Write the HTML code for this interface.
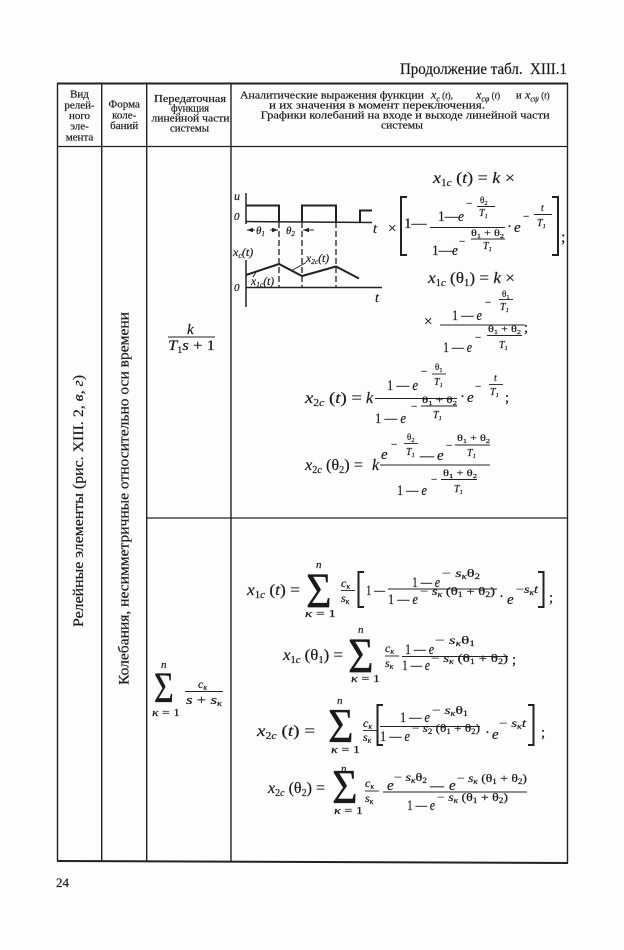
<!DOCTYPE html>
<html><head><meta charset="utf-8">
<style>
html,body{margin:0;padding:0;background:#fdfdfd;}
svg{display:block;}
text{font-family:"Liberation Serif","DejaVu Serif",serif;fill:#1a1a1a;stroke:#1a1a1a;stroke-width:0.2;}
.i{font-style:italic;}
.l{stroke:#222;fill:none;}
</style></head><body>
<svg width="624" height="950" viewBox="0 0 624 950" xmlns="http://www.w3.org/2000/svg">
<rect x="0" y="0" width="624" height="950" fill="#fdfdfd"/>

<!-- title -->
<text x="400" y="74" font-size="15.5" textLength="167" lengthAdjust="spacingAndGlyphs">Продолжение табл.&#160;&#160;XIII.1</text>

<!-- table frame -->
<g class="l">
<path stroke-width="2" d="M57,83.5 H568"/>
<path stroke-width="1.3" d="M57,146.5 H568"/>
<path stroke-width="2" d="M57,861 L568,863"/>
<path stroke-width="1.4" d="M57.5,83 V861 M101.7,83 V861.3 M146.7,83 V861.5 M231,83 V862 M567.5,83 V863"/>
<path stroke-width="1.3" d="M146.7,518 H567.5"/>
</g>

<!-- header col1 / col2 -->
<g font-size="11" text-anchor="middle">
<text x="79.5" y="97.5">Вид</text>
<text x="79.5" y="108.3">релей-</text>
<text x="79.5" y="119">ного</text>
<text x="79.5" y="129.7">эле-</text>
<text x="79.5" y="140.5">мента</text>
<text x="124.2" y="107.5">Форма</text>
<text x="124.2" y="118.3">коле-</text>
<text x="124.2" y="129">баний</text>
</g>
<g font-size="11">
<text x="154" y="102" textLength="72" lengthAdjust="spacingAndGlyphs">Передаточная</text>
<text x="171" y="111.5" textLength="38" lengthAdjust="spacingAndGlyphs">функция</text>
<text x="151.5" y="121.5" textLength="78" lengthAdjust="spacingAndGlyphs">линейной части</text>
<text x="170" y="131.5" textLength="39" lengthAdjust="spacingAndGlyphs">системы</text>
</g>
<!-- header col4 -->
<g font-size="11">
<text x="240" y="98.5" textLength="184" lengthAdjust="spacingAndGlyphs">Аналитические выражения функции</text>
<text x="431" y="98.5" font-size="12"><tspan class="i">x</tspan><tspan font-size="8" class="i" dy="3">c</tspan><tspan dy="-3" font-size="9"> (</tspan><tspan font-size="9" class="i">t</tspan><tspan font-size="9">),</tspan></text>
<text x="476" y="98.5" font-size="12"><tspan class="i">x</tspan><tspan font-size="8" class="i" dy="3">cφ</tspan><tspan dy="-3" font-size="9"> (</tspan><tspan font-size="9" class="i">t</tspan><tspan font-size="9">)</tspan></text>
<text x="516" y="98.5" font-size="10.5">и</text>
<text x="525" y="98.5" font-size="12"><tspan class="i">x</tspan><tspan font-size="8" class="i" dy="3">cψ</tspan><tspan dy="-3" font-size="9"> (</tspan><tspan font-size="9" class="i">t</tspan><tspan font-size="9">)</tspan></text>
<text x="269" y="108.5" textLength="216" lengthAdjust="spacingAndGlyphs">и их значения в момент переключения.</text>
<text x="260.7" y="118.5" textLength="289" lengthAdjust="spacingAndGlyphs">Графики колебаний на входе и выходе линейной части</text>
<text x="381" y="128.5" textLength="42" lengthAdjust="spacingAndGlyphs">системы</text>
</g>

<!-- rotated column texts -->
<text transform="translate(83,501) rotate(-90)" font-size="15" text-anchor="middle" textLength="252" lengthAdjust="spacingAndGlyphs">Релейные элементы (рис. XIII. 2, <tspan class="i">в</tspan>, <tspan class="i">г</tspan>)</text>
<text transform="translate(128.5,498.5) rotate(-90)" font-size="15" text-anchor="middle" textLength="373" lengthAdjust="spacingAndGlyphs">Колебания, несимметричные относительно оси времени</text>

<!-- col3 transfer functions -->
<text x="187" y="334" font-size="15" class="i">k</text>
<path class="l" stroke-width="1" d="M168,337 H215"/>
<text x="168" y="350" font-size="15" textLength="47" lengthAdjust="spacingAndGlyphs"><tspan class="i">T</tspan><tspan font-size="9" dy="3">1</tspan><tspan dy="-3" class="i">s</tspan> + 1</text>

<text transform="translate(154,702) scale(1,1.28)" font-size="34">Σ</text>
<text x="161" y="668" font-size="11" class="i">n</text>
<text x="152" y="716" font-size="10" textLength="28" lengthAdjust="spacingAndGlyphs"><tspan class="i">κ</tspan> = 1</text>
<text x="198" y="688" font-size="12" class="i">c<tspan font-size="8" dy="2">κ</tspan></text>
<path class="l" stroke-width="1" d="M185,691.5 H223"/>
<text x="186" y="704" font-size="13" textLength="36" lengthAdjust="spacingAndGlyphs"><tspan class="i">s</tspan> + <tspan class="i">s</tspan><tspan font-size="8" dy="2" class="i">κ</tspan></text>

<!-- graph -->
<g class="l" stroke-width="1.5">
<path d="M246,193 V224"/>
<path d="M246,221.5 L372,222.5"/>
<path stroke-width="2" d="M246,205.5 H279 V222"/>
<path stroke-width="2" d="M302,222 V205.5 H336 V222"/>
<path stroke-width="2" d="M360,222.5 V210.5 H372"/>
<path stroke-width="1.3" stroke-dasharray="6,3" d="M279,222 V287 M302,222 V287 M336,222 V287"/>
<path d="M246,260 V307"/>
<path d="M246,287.5 H382"/>
<path stroke-width="2" d="M246,275 L279,264 L302,276 L336,266.5 L359,278.5"/>
<path stroke-width="1" d="M306,262.5 L292,270.5"/>
<path stroke-width="1" d="M253,277 L256,272"/>
<path stroke-width="1" d="M247,230 H255 M270,230 H278 M303,230 H314"/>
</g>
<g fill="#222">
<polygon points="247,230 253,227.8 253,232.2"/>
<polygon points="278,230 272,227.8 272,232.2"/>
<polygon points="303,230 309,227.8 309,232.2"/>
</g>
<text x="234" y="200" font-size="12" class="i">u</text>
<text x="234" y="220" font-size="11" class="i">0</text>
<text x="256" y="234" font-size="11" class="i">θ<tspan font-size="7" dy="2">1</tspan></text>
<text x="286" y="234" font-size="11" class="i">θ<tspan font-size="7" dy="2">2</tspan></text>
<text x="373" y="233" font-size="14" class="i">t</text>
<text x="388" y="233" font-size="15">×</text>
<text x="233" y="256" font-size="12" class="i">x<tspan font-size="8" dy="2">c</tspan><tspan dy="-2">(t)</tspan></text>
<text x="306" y="262" font-size="11.5" class="i">x<tspan font-size="7.5" dy="2">2c</tspan><tspan dy="-2">(t)</tspan></text>
<text x="251" y="285" font-size="11.5" class="i">x<tspan font-size="7.5" dy="2">1c</tspan><tspan dy="-2">(t)</tspan></text>
<text x="234" y="291" font-size="11" class="i">0</text>
<text x="375" y="302" font-size="14" class="i">t</text>

<!-- Formula A -->
<text x="433" y="183" font-size="16" textLength="82" lengthAdjust="spacingAndGlyphs"><tspan class="i">x</tspan><tspan font-size="10" dy="3">1</tspan><tspan font-size="10" class="i">c</tspan><tspan dy="-3"> (</tspan><tspan class="i">t</tspan>) = <tspan class="i">k</tspan> ×</text>
<path class="l" stroke-width="2" d="M407,197 H401 V255 H407 M552,197 H558 V255 H552"/>
<text x="404" y="228" font-size="15">1—</text>
<g class="l" stroke-width="0.9">
<path d="M430,227.5 H505"/>
<path d="M477,206.5 H495"/>
<path d="M471,239 H505"/>
<path d="M534,214.5 H552"/>
</g>
<text x="438" y="221" font-size="15" textLength="26" lengthAdjust="spacingAndGlyphs">1—<tspan class="i">e</tspan></text>
<text x="466" y="207" font-size="11">−</text>
<text x="480" y="203" font-size="9">θ<tspan dy="2" font-size="6.5">2</tspan></text>
<text x="479" y="216" font-size="10" class="i">T<tspan dy="2" font-size="6.5">1</tspan></text>
<text x="432" y="255" font-size="15" textLength="26" lengthAdjust="spacingAndGlyphs">1—<tspan class="i">e</tspan></text>
<text x="459" y="245" font-size="11">−</text>
<text x="471" y="236" font-size="9.5" textLength="33" lengthAdjust="spacingAndGlyphs">θ<tspan dy="2" font-size="6.5">1</tspan><tspan dy="-2"> + θ</tspan><tspan dy="2" font-size="6.5">2</tspan></text>
<text x="483" y="249" font-size="10" class="i">T<tspan dy="2" font-size="6.5">1</tspan></text>
<text x="507" y="231" font-size="15">·</text>
<text x="514" y="232" font-size="15" class="i">e</text>
<text x="523" y="220" font-size="11">−</text>
<text x="541" y="211" font-size="10" class="i">t</text>
<text x="537" y="226" font-size="10" class="i">T<tspan dy="2" font-size="6.5">1</tspan></text>
<text x="561" y="242" font-size="16">;</text>

<!-- Formula B -->
<text x="428" y="283" font-size="16" textLength="87" lengthAdjust="spacingAndGlyphs"><tspan class="i">x</tspan><tspan font-size="10" dy="3">1</tspan><tspan font-size="10" class="i">c</tspan><tspan dy="-3"> (θ</tspan><tspan font-size="10" dy="3">1</tspan><tspan dy="-3">) = </tspan><tspan class="i">k</tspan> ×</text>
<text x="424" y="326" font-size="15">×</text>
<g class="l" stroke-width="0.9">
<path d="M440,325 H525"/>
<path d="M499,299.5 H513"/>
<path d="M487,335.5 H522"/>
</g>
<text x="452" y="320" font-size="15" textLength="30" lengthAdjust="spacingAndGlyphs">1 — <tspan class="i">e</tspan></text>
<text x="485" y="306" font-size="11">−</text>
<text x="502" y="297" font-size="9">θ<tspan dy="2" font-size="6.5">1</tspan></text>
<text x="500" y="310" font-size="10" class="i">T<tspan dy="2" font-size="6.5">1</tspan></text>
<text x="443" y="352" font-size="15" textLength="29" lengthAdjust="spacingAndGlyphs">1 — <tspan class="i">e</tspan></text>
<text x="475" y="341" font-size="11">−</text>
<text x="488" y="332" font-size="9.5" textLength="33" lengthAdjust="spacingAndGlyphs">θ<tspan dy="2" font-size="6.5">1</tspan><tspan dy="-2"> + θ</tspan><tspan dy="2" font-size="6.5">2</tspan></text>
<text x="499" y="348" font-size="10" class="i">T<tspan dy="2" font-size="6.5">1</tspan></text>
<text x="524" y="332" font-size="15">;</text>

<!-- Formula C -->
<text x="305" y="403" font-size="16" textLength="57" lengthAdjust="spacingAndGlyphs"><tspan class="i">x</tspan><tspan font-size="10" dy="3">2</tspan><tspan font-size="10" class="i">c</tspan><tspan dy="-3"> (</tspan><tspan class="i">t</tspan>) =</text>
<text x="366" y="403" font-size="16" class="i">k</text>
<g class="l" stroke-width="0.9">
<path d="M375,398.5 H457"/>
<path d="M432,374 H446"/>
<path d="M421,406 H457"/>
<path d="M489,384.5 H503"/>
</g>
<text x="387" y="390" font-size="15" textLength="31" lengthAdjust="spacingAndGlyphs">1 — <tspan class="i">e</tspan></text>
<text x="421" y="375" font-size="11">−</text>
<text x="435" y="370" font-size="9">θ<tspan dy="2" font-size="6.5">1</tspan></text>
<text x="434" y="385" font-size="10" class="i">T<tspan dy="2" font-size="6.5">1</tspan></text>
<text x="375" y="423" font-size="15" textLength="31" lengthAdjust="spacingAndGlyphs">1 — <tspan class="i">e</tspan></text>
<text x="411" y="410" font-size="11">−</text>
<text x="422" y="403" font-size="9.5" textLength="35" lengthAdjust="spacingAndGlyphs">θ<tspan dy="2" font-size="6.5">1</tspan><tspan dy="-2"> + θ</tspan><tspan dy="2" font-size="6.5">2</tspan></text>
<text x="433" y="418" font-size="10" class="i">T<tspan dy="2" font-size="6.5">1</tspan></text>
<text x="460" y="401" font-size="15">·</text>
<text x="467" y="402" font-size="15" class="i">e</text>
<text x="475" y="390" font-size="11">−</text>
<text x="494" y="381" font-size="10" class="i">t</text>
<text x="490" y="395" font-size="10" class="i">T<tspan dy="2" font-size="6.5">1</tspan></text>
<text x="505" y="402" font-size="15">;</text>

<!-- Formula D -->
<text x="305" y="470" font-size="16" textLength="58" lengthAdjust="spacingAndGlyphs"><tspan class="i">x</tspan><tspan font-size="10" dy="3">2</tspan><tspan font-size="10" class="i">c</tspan><tspan dy="-3"> (θ</tspan><tspan font-size="10" dy="3">2</tspan><tspan dy="-3">) =</tspan></text>
<text x="372" y="470" font-size="16" class="i">k</text>
<g class="l" stroke-width="0.9">
<path d="M380,465 H490"/>
<path d="M404,443.5 H418"/>
<path d="M455,445 H490"/>
<path d="M441,479.5 H477"/>
</g>
<text x="381" y="459" font-size="15" class="i">e</text>
<text x="391" y="448" font-size="11">−</text>
<text x="407" y="440" font-size="9">θ<tspan dy="2" font-size="6.5">2</tspan></text>
<text x="406" y="455" font-size="10" class="i">T<tspan dy="2" font-size="6.5">1</tspan></text>
<text x="420" y="460" font-size="14">—</text>
<text x="437" y="460" font-size="15" class="i">e</text>
<text x="446" y="449" font-size="11">−</text>
<text x="457" y="441" font-size="9.5" textLength="33" lengthAdjust="spacingAndGlyphs">θ<tspan dy="2" font-size="6.5">1</tspan><tspan dy="-2"> + θ</tspan><tspan dy="2" font-size="6.5">2</tspan></text>
<text x="467" y="456" font-size="10" class="i">T<tspan dy="2" font-size="6.5">1</tspan></text>
<text x="397" y="495" font-size="15" textLength="30" lengthAdjust="spacingAndGlyphs">1 — <tspan class="i">e</tspan></text>
<text x="431" y="483" font-size="11">−</text>
<text x="443" y="476" font-size="9.5" textLength="34" lengthAdjust="spacingAndGlyphs">θ<tspan dy="2" font-size="6.5">1</tspan><tspan dy="-2"> + θ</tspan><tspan dy="2" font-size="6.5">2</tspan></text>
<text x="454" y="492" font-size="10" class="i">T<tspan dy="2" font-size="6.5">1</tspan></text>

<!-- Formula E -->
<text x="247" y="595" font-size="16" textLength="53" lengthAdjust="spacingAndGlyphs"><tspan class="i">x</tspan><tspan font-size="10" dy="3">1</tspan><tspan font-size="10" class="i">c</tspan><tspan dy="-3"> (</tspan><tspan class="i">t</tspan>) =</text>
<text transform="translate(306,607) scale(1,1.12)" font-size="44">Σ</text>
<text x="316" y="568" font-size="11" class="i">n</text>
<text x="305" y="617" font-size="10" textLength="31" lengthAdjust="spacingAndGlyphs"><tspan class="i">κ</tspan> = 1</text>
<text x="341" y="587" font-size="12" class="i">c<tspan font-size="8" dy="2">κ</tspan></text>
<text x="341" y="602" font-size="12" class="i">s<tspan font-size="8" dy="2">κ</tspan></text>
<g class="l" stroke-width="0.9">
<path d="M341,590.5 H355"/>
<path d="M388,589 H497"/>
</g>
<path class="l" stroke-width="2" d="M364,572 H358.5 V607 H364 M538,572 H543.5 V607 H538"/>
<text x="366" y="595" font-size="15" textLength="19" lengthAdjust="spacingAndGlyphs">1 —</text>
<text x="412" y="587" font-size="15" textLength="28" lengthAdjust="spacingAndGlyphs">1 — <tspan class="i">e</tspan></text>
<text x="442" y="577" font-size="12" textLength="38" lengthAdjust="spacingAndGlyphs">− <tspan class="i">s</tspan><tspan font-size="8" dy="2" class="i">κ</tspan><tspan dy="-2">θ</tspan><tspan font-size="8" dy="2">2</tspan></text>
<text x="388" y="604" font-size="15" textLength="30" lengthAdjust="spacingAndGlyphs">1 — <tspan class="i">e</tspan></text>
<text x="420" y="595" font-size="12" textLength="75" lengthAdjust="spacingAndGlyphs">− <tspan class="i">s</tspan><tspan font-size="8" dy="2" class="i">κ</tspan><tspan dy="-2"> (θ</tspan><tspan font-size="8" dy="2">1</tspan><tspan dy="-2"> + θ</tspan><tspan font-size="8" dy="2">2</tspan><tspan dy="-2">)</tspan></text>
<text x="499" y="601" font-size="15">·</text>
<text x="507" y="604" font-size="15" class="i">e</text>
<text x="516" y="593" font-size="12" textLength="22" lengthAdjust="spacingAndGlyphs">−<tspan class="i">s</tspan><tspan font-size="8" dy="2" class="i">κ</tspan><tspan dy="-2" class="i">t</tspan></text>
<text x="549" y="602" font-size="15">;</text>

<!-- Formula F -->
<text x="283" y="660" font-size="16" textLength="60" lengthAdjust="spacingAndGlyphs"><tspan class="i">x</tspan><tspan font-size="10" dy="3">1</tspan><tspan font-size="10" class="i">c</tspan><tspan dy="-3"> (θ</tspan><tspan font-size="10" dy="3">1</tspan><tspan dy="-3">) =</tspan></text>
<text transform="translate(348,672) scale(1,1.12)" font-size="44">Σ</text>
<text x="358" y="633" font-size="11" class="i">n</text>
<text x="351" y="682" font-size="10" textLength="29" lengthAdjust="spacingAndGlyphs"><tspan class="i">κ</tspan> = 1</text>
<text x="385" y="652" font-size="12" class="i">c<tspan font-size="8" dy="2">κ</tspan></text>
<text x="385" y="667" font-size="12" class="i">s<tspan font-size="8" dy="2">κ</tspan></text>
<g class="l" stroke-width="0.9">
<path d="M385,656 H399"/>
<path d="M402,656.5 H508"/>
</g>
<text x="405" y="654" font-size="15" textLength="29" lengthAdjust="spacingAndGlyphs">1 — <tspan class="i">e</tspan></text>
<text x="435" y="644" font-size="12" textLength="40" lengthAdjust="spacingAndGlyphs">− <tspan class="i">s</tspan><tspan font-size="8" dy="2" class="i">κ</tspan><tspan dy="-2">θ</tspan><tspan font-size="8" dy="2">1</tspan></text>
<text x="402" y="670" font-size="15" textLength="28" lengthAdjust="spacingAndGlyphs">1 — <tspan class="i">e</tspan></text>
<text x="431" y="662" font-size="12" textLength="77" lengthAdjust="spacingAndGlyphs">− <tspan class="i">s</tspan><tspan font-size="8" dy="2" class="i">κ</tspan><tspan dy="-2"> (θ</tspan><tspan font-size="8" dy="2">1</tspan><tspan dy="-2"> + θ</tspan><tspan font-size="8" dy="2">2</tspan><tspan dy="-2">)</tspan></text>
<text x="512" y="664" font-size="15">;</text>

<!-- Formula G -->
<text x="257" y="736" font-size="16" textLength="58" lengthAdjust="spacingAndGlyphs"><tspan class="i">x</tspan><tspan font-size="10" dy="3">2</tspan><tspan font-size="10" class="i">c</tspan><tspan dy="-3"> (</tspan><tspan class="i">t</tspan>) =</text>
<text transform="translate(328,742) scale(1,1.1)" font-size="44">Σ</text>
<text x="337" y="704" font-size="11" class="i">n</text>
<text x="331" y="753" font-size="10" textLength="29" lengthAdjust="spacingAndGlyphs"><tspan class="i">κ</tspan> = 1</text>
<text x="363" y="727" font-size="12" class="i">c<tspan font-size="8" dy="2">κ</tspan></text>
<text x="363" y="741" font-size="12" class="i">s<tspan font-size="8" dy="2">κ</tspan></text>
<g class="l" stroke-width="0.9">
<path d="M363,730.5 H377"/>
<path d="M380,726.5 H480"/>
</g>
<path class="l" stroke-width="2" d="M383,705 H377.5 V745 H383 M528,705 H533.5 V745 H528"/>
<text x="400" y="722" font-size="15" textLength="30" lengthAdjust="spacingAndGlyphs">1 — <tspan class="i">e</tspan></text>
<text x="432" y="714" font-size="12" textLength="36" lengthAdjust="spacingAndGlyphs">− <tspan class="i">s</tspan><tspan font-size="8" dy="2" class="i">κ</tspan><tspan dy="-2">θ</tspan><tspan font-size="8" dy="2">1</tspan></text>
<text x="380" y="741" font-size="15" textLength="30" lengthAdjust="spacingAndGlyphs">1 — <tspan class="i">e</tspan></text>
<text x="412" y="732" font-size="12" textLength="68" lengthAdjust="spacingAndGlyphs">− <tspan class="i">s</tspan><tspan font-size="8" dy="2">2</tspan><tspan dy="-2"> (θ</tspan><tspan font-size="8" dy="2">1</tspan><tspan dy="-2"> + θ</tspan><tspan font-size="8" dy="2">2</tspan><tspan dy="-2">)</tspan></text>
<text x="485" y="737" font-size="15">·</text>
<text x="492" y="739" font-size="15" class="i">e</text>
<text x="499" y="727" font-size="12" textLength="27" lengthAdjust="spacingAndGlyphs">− <tspan class="i">s</tspan><tspan font-size="8" dy="2" class="i">κ</tspan><tspan dy="-2" class="i">t</tspan></text>
<text x="541" y="737" font-size="15">;</text>

<!-- Formula H -->
<text x="268" y="793" font-size="16" textLength="57" lengthAdjust="spacingAndGlyphs"><tspan class="i">x</tspan><tspan font-size="10" dy="3">2</tspan><tspan font-size="10" class="i">c</tspan><tspan dy="-3"> (θ</tspan><tspan font-size="10" dy="3">2</tspan><tspan dy="-3">) =</tspan></text>
<text transform="translate(332,803) scale(1,1.1)" font-size="44">Σ</text>
<text x="341" y="772" font-size="11" class="i">n</text>
<text x="334" y="814" font-size="10" textLength="29" lengthAdjust="spacingAndGlyphs"><tspan class="i">κ</tspan> = 1</text>
<text x="365" y="787" font-size="12" class="i">c<tspan font-size="8" dy="2">κ</tspan></text>
<text x="365" y="802" font-size="12" class="i">s<tspan font-size="8" dy="2">κ</tspan></text>
<g class="l" stroke-width="0.9">
<path d="M365,791 H379"/>
<path d="M383,792 H527"/>
</g>
<text x="387" y="790" font-size="15" class="i">e</text>
<text x="394" y="781" font-size="12" textLength="33" lengthAdjust="spacingAndGlyphs">− <tspan class="i">s</tspan><tspan font-size="8" dy="2" class="i">κ</tspan><tspan dy="-2">θ</tspan><tspan font-size="8" dy="2">2</tspan></text>
<text x="430" y="790" font-size="14">—</text>
<text x="449" y="790" font-size="15" class="i">e</text>
<text x="457" y="782" font-size="12" textLength="70" lengthAdjust="spacingAndGlyphs">− <tspan class="i">s</tspan><tspan font-size="8" dy="2" class="i">κ</tspan><tspan dy="-2"> (θ</tspan><tspan font-size="8" dy="2">1</tspan><tspan dy="-2"> + θ</tspan><tspan font-size="8" dy="2">2</tspan><tspan dy="-2">)</tspan></text>
<text x="407" y="810" font-size="15" textLength="28" lengthAdjust="spacingAndGlyphs">1 — <tspan class="i">e</tspan></text>
<text x="437" y="801" font-size="12" textLength="71" lengthAdjust="spacingAndGlyphs">− <tspan class="i">s</tspan><tspan font-size="8" dy="2" class="i">κ</tspan><tspan dy="-2"> (θ</tspan><tspan font-size="8" dy="2">1</tspan><tspan dy="-2"> + θ</tspan><tspan font-size="8" dy="2">2</tspan><tspan dy="-2">)</tspan></text>

<!-- page number -->
<text x="56" y="887" font-size="13">24</text>
</svg>
</body></html>
